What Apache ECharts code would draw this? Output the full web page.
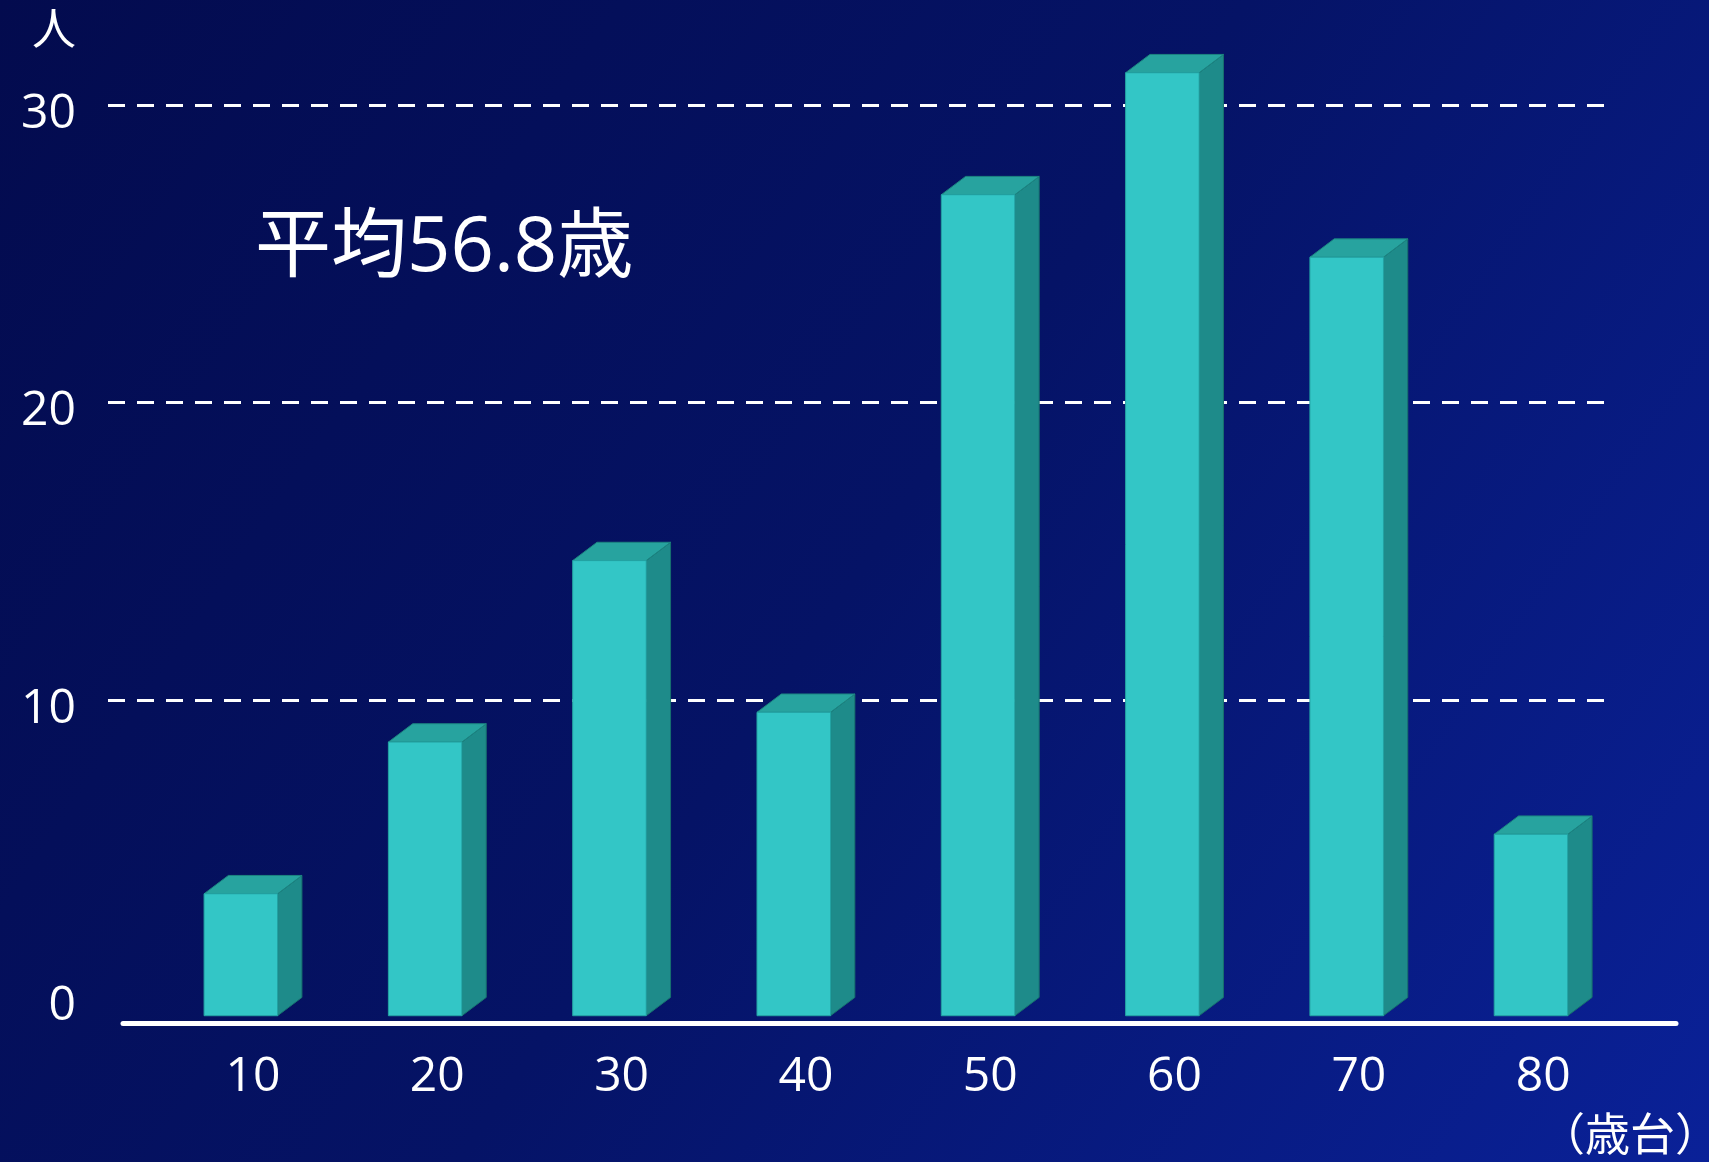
<!DOCTYPE html>
<html>
<head>
<meta charset="utf-8">
<script src="https://cdn.jsdelivr.net/npm/echarts@6/dist/echarts.min.js"></script>
<style>
  html, body { margin: 0; padding: 0; width: 1709px; height: 1162px; overflow: hidden; }
  #chart { width: 1709px; height: 1162px; }
</style>
</head>
<body>
<div id="chart"></div>
<script>
// ---- data ----
var categories = ['10', '20', '30', '40', '50', '60', '70', '80'];
var counts = [4.1, 9.2, 15.3, 10.2, 27.6, 31.7, 25.5, 6.1];
var yTicks = [0, 10, 20, 30];
var yUnit = '人';
var xUnit = '（歳台）';
var note = '平均56.8歳';

var FONT = '"Open Sans", "Noto Sans CJK JP", sans-serif';
var chart = echarts.init(document.getElementById('chart'));

var option = {
  backgroundColor: {
    type: 'linear', x: 0, y: 0, x2: 1, y2: 1,
    colorStops: [
      { offset: 0, color: '#030b4e' },
      { offset: 0.5, color: '#051366' },
      { offset: 1, color: '#0a2198' }
    ]
  },
  animation: false,
  grid: [
    { left: 108, right: 100, top: 105, bottom: 164.6 },   // y axis + gridlines
    { left: 160.85, right: 73.7, top: 105, bottom: 164.6 }, // bars
    { left: 123, right: 33, top: 500, bottom: 138.5 }      // baseline
  ],
  xAxis: [
    { gridIndex: 0, type: 'value', show: false, min: 0, max: 1 },
    {
      gridIndex: 1, type: 'category', data: categories,
      axisLine: { show: false }, axisTick: { show: false },
      axisLabel: {
        color: '#ffffff', fontSize: 48, fontFamily: FONT, margin: 56
      }
    },
    {
      gridIndex: 2, type: 'value', min: 0, max: 1,
      axisLine: { show: true, lineStyle: { color: '#ffffff', width: 5 } },
      axisTick: { show: false }, axisLabel: { show: false }, splitLine: { show: false }
    }
  ],
  yAxis: [
    {
      gridIndex: 0, type: 'value', min: yTicks[0], max: yTicks[yTicks.length - 1], interval: 10,
      axisLine: { show: false }, axisTick: { show: false },
      axisLabel: {
        color: '#ffffff', fontSize: 48, fontFamily: FONT, margin: 32,
        verticalAlign: 'top', lineHeight: 18
      },
      splitLine: {
        show: true,
        lineStyle: {
          color: ['rgba(0,0,0,0)', '#ffffff', '#ffffff', '#ffffff'],
          width: 3, type: [17, 12]
        }
      }
    },
    {
      gridIndex: 1, type: 'value', min: yTicks[0], max: yTicks[yTicks.length - 1], interval: 10,
      show: false
    },
    { gridIndex: 2, type: 'value', show: false }
  ],
  graphic: [
    {
      type: 'text', left: 32, top: 10,
      style: { text: yUnit, fill: '#ffffff', fontSize: 44, fontFamily: FONT }
    },
    {
      type: 'text', left: 1540, top: 1116,
      style: { text: xUnit, fill: '#ffffff', fontSize: 45, fontFamily: FONT }
    },
    {
      type: 'text', left: 255, top: 211,
      style: { text: note, fill: '#ffffff', fontSize: 76, fontFamily: FONT }
    }
  ],
  series: [
    {
      type: 'custom',
      xAxisIndex: 1, yAxisIndex: 1,
      clip: false,
      encode: { x: 0, y: 1 },
      data: counts.map(function (v, i) { return [i, v]; }),
      renderItem: function (params, api) {
        var k = api.value(0), v = api.value(1);
        var top = api.coord([k, v]);
        var base = api.coord([k, 0]);
        var bw = api.size([1, 0])[0];
        var fw = bw * 0.399;
        var dx = bw * 0.132;
        var dy = dx * 0.753;
        var fl = top[0] - (fw + dx) / 2;
        var ty = top[1], by = base[1];
        return {
          type: 'group',
          children: [
            {
              type: 'polygon',
              shape: { points: [[fl + fw, ty + dy], [fl + fw + dx, ty], [fl + fw + dx, by], [fl + fw, by + dy]] },
              style: { fill: '#1e8b8a', stroke: '#17706f', lineWidth: 1 }
            },
            {
              type: 'polygon',
              shape: { points: [[fl, ty + dy], [fl + dx, ty], [fl + fw + dx, ty], [fl + fw, ty + dy]] },
              style: { fill: '#27a39f', stroke: '#1c8480', lineWidth: 1 }
            },
            {
              type: 'rect',
              shape: { x: fl, y: ty + dy, width: fw, height: by - ty },
              style: { fill: '#33c6c6', stroke: '#23a3a3', lineWidth: 1 }
            }
          ]
        };
      }
    }
  ]
};
chart.setOption(option);
</script>
</body>
</html>
